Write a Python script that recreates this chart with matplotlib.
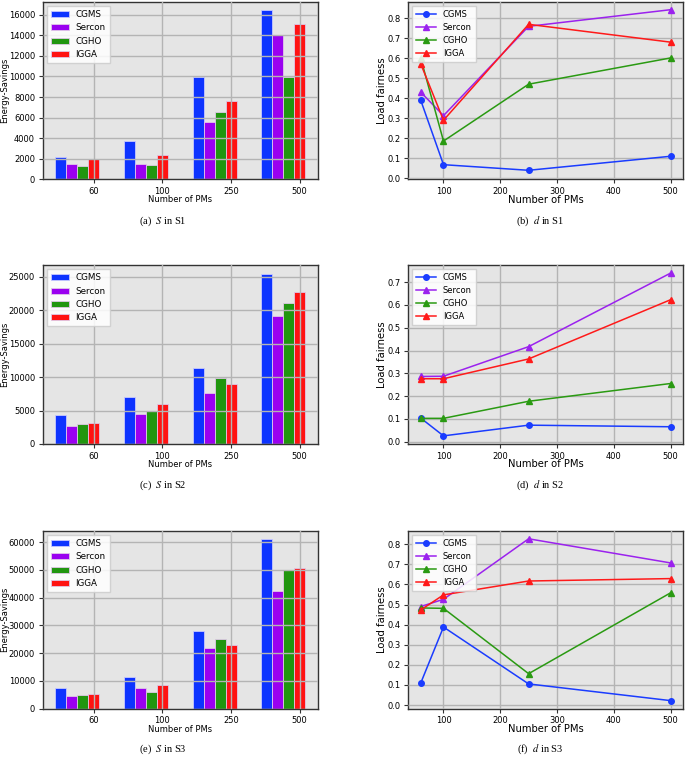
import numpy as np
import matplotlib
matplotlib.use("Agg")
import matplotlib.pyplot as plt

plt.rcParams['mathtext.fontset'] = 'stix'

pms = [60, 100, 250, 500]
pm_labels = ['60', '100', '250', '500']
algos = ['CGMS', 'Sercon', 'CGHO', 'IGGA']

# Energy savings (S)
s1_cgms = [2140, 3690, 9940, 16450]
s1_sercon = [1490, 1520, 5540, 13990]
s1_cgho = [1300, 1360, 6540, 9980]
s1_igga = [1940, 2330, 7640, 15130]

s2_cgms = [4270, 6980, 11300, 25500]
s2_sercon = [2760, 4420, 7630, 19080]
s2_cgho = [2960, 4920, 9940, 21030]
s2_igga = [3160, 6020, 8940, 22790]

s3_cgms = [7580, 11300, 28020, 61080]
s3_sercon = [4690, 7460, 21880, 42560]
s3_cgho = [4930, 6130, 25010, 49900]
s3_igga = [5290, 8540, 22850, 50860]

# Load fairness (d)
d1_cgms = [0.390, 0.069, 0.041, 0.111]
d1_sercon = [0.431, 0.314, 0.760, 0.843]
d1_cgho = [0.600, 0.187, 0.471, 0.602]
d1_igga = [0.572, 0.291, 0.770, 0.681]

d2_cgms = [0.103, 0.025, 0.072, 0.065]
d2_sercon = [0.286, 0.287, 0.417, 0.740]
d2_cgho = [0.102, 0.102, 0.177, 0.255]
d2_igga = [0.276, 0.276, 0.363, 0.623]

d3_cgms = [0.110, 0.388, 0.105, 0.022]
d3_sercon = [0.490, 0.526, 0.827, 0.707]
d3_cgho = [0.483, 0.481, 0.156, 0.558]
d3_igga = [0.473, 0.548, 0.617, 0.629]

captions_s = ['(a)  $S$ in S1', '(c)  $S$ in S2', '(e)  $S$ in S3']
captions_d = ['(b)  $d$ in S1', '(d)  $d$ in S2', '(f)  $d$ in S3']

bar_colors = ['#0d33ff', '#9a00f0', '#21960f', '#ff1212']
line_colors = ['#1a3cff', '#9b22ee', '#2a9a12', '#ff1a1a']

W, H = 685, 759
fig = plt.figure(figsize=(W / 100, H / 100), dpi=100)


def add_ax(x0, y0, x1, y1):
    return fig.add_axes([x0 / W, 1 - y1 / H, (x1 - x0) / W, (y1 - y0) / H])


def style(ax):
    ax.set_facecolor('#e5e5e5')
    ax.grid(True, color='#b4b4b4', linewidth=1.0)
    ax.set_axisbelow(False)
    for sp in ax.spines.values():
        sp.set_color('#333333')
        sp.set_linewidth(1.0)


rows = [(1.7, 179.3), (265, 444), (530.7, 708.7)]
caption_y = [221, 485, 749]
S_data = [
    (s1_cgms, s1_sercon, s1_cgho, s1_igga),
    (s2_cgms, s2_sercon, s2_cgho, s2_igga),
    (s3_cgms, s3_sercon, s3_cgho, s3_igga),
]
D_data = [
    (d1_cgms, d1_sercon, d1_cgho, d1_igga),
    (d2_cgms, d2_sercon, d2_cgho, d2_igga),
    (d3_cgms, d3_sercon, d3_cgho, d3_igga),
]

x = np.arange(len(pms))
w = 0.16
for r, (top, bot) in enumerate(rows):
    hpx = bot - top
    # bar panel
    ax = add_ax(42.7, top, 317.7, bot)
    style(ax)
    for i, (vals, c) in enumerate(zip(S_data[r], bar_colors)):
        ax.bar(x - (3 - i) * w, vals, w, color=c, edgecolor='#c8c8ff' if i == 0 else '#e0c8e8',
               linewidth=0.6, label=algos[i], zorder=1.5)
    ax.set_xticks(x)
    ax.set_xticklabels(pm_labels)
    ax.tick_params(labelsize=6, length=3, color='#333333', pad=2.5)
    ax.set_xlabel('Number of PMs', fontsize=6, va='center')
    ax.xaxis.set_label_coords(0.5, -20.5 / hpx)
    ax.set_ylabel('Energy-Savings', fontsize=6, va='center')
    ax.yaxis.set_label_coords((4.5 - 42.7) / 275, 0.5)
    ax.legend(loc='upper left', fontsize=6.3, framealpha=0.85, edgecolor='#cccccc',
              fancybox=False, handlelength=2.0, borderpad=0.45, labelspacing=0.5)
    fig.text(163 / W, 1 - caption_y[r] / H, captions_s[r], ha='center', va='center',
             family='Liberation Serif', fontsize=7.5)

    # line panel
    ax2 = add_ax(408.3, top, 683, bot)
    style(ax2)
    markers = ['o', '^', '^', '^']
    for i, (vals, c) in enumerate(zip(D_data[r], line_colors)):
        ax2.plot(pms, vals, color=c, marker=markers[i], markersize=4, linewidth=1.1,
                 label=algos[i], zorder=3)
    ax2.tick_params(labelsize=6, length=3, color='#333333', pad=2.5)
    ax2.set_xlabel('Number of PMs', fontsize=7.2, va='center')
    ax2.xaxis.set_label_coords(0.5, -20.5 / hpx)
    ax2.set_ylabel('Load fairness', fontsize=7.2, va='center')
    ax2.yaxis.set_label_coords((381.7 - 408.3) / 275, 0.5)
    ax2.set_xticks([100, 200, 300, 400, 500])
    if r == 0:
        ax2.set_ylim(-0.004, 0.883)
    ax2.legend(loc='upper left', fontsize=6, framealpha=0.85, edgecolor='#cccccc',
               fancybox=False, handlelength=2.4, borderpad=0.45, labelspacing=0.5)
    fig.text(540 / W, 1 - caption_y[r] / H, captions_d[r], ha='center', va='center',
             family='Liberation Serif', fontsize=7.5)

fig.savefig('out.png', dpi=100, facecolor='white')
